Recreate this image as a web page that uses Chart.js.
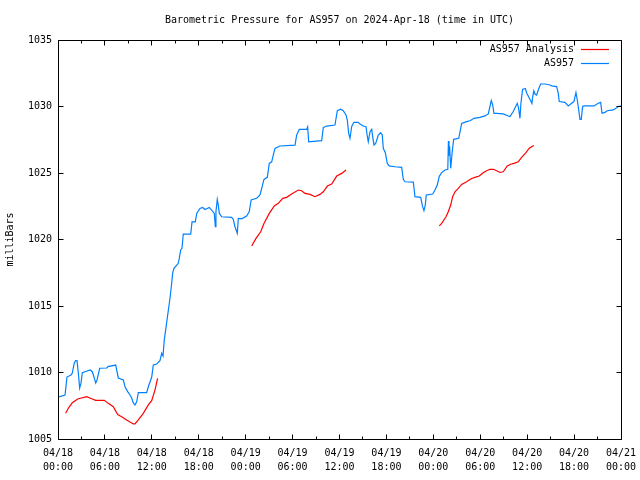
<!DOCTYPE html>
<html><head><meta charset="utf-8">
<script src="https://cdn.jsdelivr.net/npm/chart.js@4/dist/chart.umd.min.js"></script>
<style>html,body{margin:0;padding:0;background:#fff}canvas{display:block}</style>
</head><body>
<canvas id="c" width="640" height="480"></canvas>
<script>
const titleText = 'Barometric Pressure for AS957 on 2024-Apr-18 (time in UTC)';
const yAxisLabel = 'milliBars';
const seriesNames = ['AS957 Analysis', 'AS957'];
const seriesColors = ['#ff0000', '#0080ff'];
const dateLabels = ['04/18','04/18','04/18','04/18','04/19','04/19','04/19','04/19','04/20','04/20','04/20','04/20','04/21'];
const timeLabels = ['00:00','06:00','12:00','18:00','00:00','06:00','12:00','18:00','00:00','06:00','12:00','18:00','00:00'];
const yTickValues = [1005, 1010, 1015, 1020, 1025, 1030, 1035];

// hours since 2024-04-18 00:00 UTC
const stationHours = [0,0.9,1.15,1.66,1.83,2.08,2.26,2.43,2.6,2.77,2.94,3.11,3.45,4.13,4.39,4.64,4.82,4.99,5.33,6.23,6.39,7.38,7.71,8.35,8.57,8.91,9.21,9.42,9.63,9.85,10.06,10.27,11.34,11.55,11.98,12.19,12.62,13.04,13.26,13.43,13.59,
14.32,14.54,14.66,14.83,15.18,15.38,15.51,15.69,15.86,16.02,16.97,17.14,17.56,17.74,18.16,18.5,18.8,19.35,19.65,19.99,20.12,20.2,20.37,20.5,20.63,20.93,22.21,22.42,22.63,22.93,23.06,23.49,24.13,24.46,24.7,25.41,25.83,26.05,26.34,26.77,27.02,27.33,27.53,27.75,28.39,30.31,30.52,30.86,31.8,31.93,32.06,33.72,33.93,34.36,35.42,35.72,36.15,36.48,36.83,37.0,37.17,37.34,37.56,37.85,38.4,38.62,39.04,39.39,39.55,39.68,39.9,40.12,40.24,40.41,40.63,40.96,41.27,41.47,41.6,41.86,42.11,42.37,43.09,43.95,44.16,44.37,45.44,45.65,46.38,46.63,46.8,46.97,47.1,47.92,48.21,48.5,48.76,49.07,49.49,49.85,49.93,50.0,50.08,50.22,50.4,50.6,51.25,51.62,52.26,52.69,53.2,53.96,54.6,55.03,55.24,55.41,55.59,55.75,56.1,56.94,57.58,57.8,58.22,58.73,58.9,59.08,59.2,59.41,59.76,59.95,60.4,60.61,60.7,60.85,61.0,61.21,61.42,61.72,62.28,62.92,63.13,63.77,63.98,64.1,64.83,65.26,65.69,65.98,66.24,66.41,66.59,66.75,66.92,67.09,67.26,68.54,69.09,69.4,69.57,69.95,70.24,71.0,71.36,71.65,72.0];
const stationPressure = [1008.15,1008.3,1009.66,1009.81,1009.96,1010.71,1010.89,1010.89,1009.96,1008.83,1009.2,1009.98,1010.06,1010.19,1010.06,1009.59,1009.21,1009.44,1010.32,1010.34,1010.44,1010.56,1009.59,1009.44,1008.93,1008.56,1008.31,1008.08,1007.71,1007.56,1007.8,1008.48,1008.48,1008.93,1009.64,1010.56,1010.64,1010.89,1011.44,1011.24,1012.44,
1015.58,1016.71,1017.46,1017.83,1018.08,1018.21,1018.58,1019.21,1019.34,1020.41,1020.41,1021.33,1021.33,1021.96,1022.33,1022.41,1022.26,1022.41,1022.21,1021.96,1020.96,1022.11,1023.01,1022.59,1021.96,1021.71,1021.66,1021.51,1020.96,1020.47,1021.59,1021.55,1021.77,1022.1,1022.97,1023.1,1023.35,1023.85,1024.52,1024.67,1025.72,1025.84,1026.35,1026.85,1027.03,1027.1,1027.85,1028.28,1028.28,1028.47,1027.35,1027.43,1028.43,1028.53,1028.61,1029.68,1029.79,1029.68,1029.36,1028.98,1027.98,1027.61,1028.5,1028.81,1028.81,1028.68,1028.53,1028.48,1027.78,1027.35,1028.1,1028.28,1027.73,1027.11,1027.23,1027.86,1028.03,1027.86,1026.86,1026.53,1025.72,1025.53,1025.47,1025.42,1024.52,1024.34,1024.32,1023.22,1023.17,1022.47,1022.17,1022.59,1023.35,1023.42,1023.72,1024.1,1024.75,1025.03,1025.23,1025.28,1027.41,1026.3,1027.0,1025.35,1026.5,1027.53,1027.61,1028.73,1028.86,1028.93,1029.11,1029.18,1029.29,1029.44,1030.0,1030.45,1030.12,1029.49,1029.49,1029.44,1029.29,1029.24,1029.62,1030.24,1029.9,1029.11,1030.24,1031.29,1031.35,1031.0,1030.49,1030.24,1030.7,1031.18,1030.94,1030.86,1031.24,1031.69,1031.69,1031.62,1031.55,1031.5,1030.99,1030.37,1030.31,1030.04,1030.24,1030.37,1031.05,1030.49,1029.74,1029.03,1029.03,1030.0,1030.04,1030.04,1030.24,1030.31,1029.49,1029.56,1029.68,1029.74,1029.86,1030.0,1030.04];

// analysis: three segments separated by null gaps
const analysisHours = [0.98,1.32,1.83,2.52,3.67,4.31,4.82,5.92,6.43,7.07,7.63,8.14,8.78,9.63,9.85,10.27,10.91,11.55,11.98,12.4,12.74,
18,
24.77,25.32,25.92,26.34,27.02,27.66,28.18,28.73,29.24,29.88,30.73,31.16,31.59,32.23,32.86,33.5,33.93,34.45,35.0,35.64,36.28,36.83,
42,
48.76,49.07,49.62,49.91,50.22,50.47,50.77,51.19,51.62,52.26,52.9,53.32,53.87,54.38,54.81,55.24,55.67,56.1,56.52,56.94,57.45,57.89,58.31,58.86,59.29,59.85,60.27,60.85];
const analysisPressure = [1006.93,1007.31,1007.73,1008.01,1008.18,1008.03,1007.91,1007.91,1007.68,1007.43,1006.83,1006.68,1006.43,1006.13,1006.13,1006.43,1006.93,1007.56,1007.88,1008.68,1009.56,
null,
1019.51,1020.08,1020.58,1021.21,1021.96,1022.52,1022.72,1023.09,1023.17,1023.42,1023.72,1023.67,1023.47,1023.39,1023.22,1023.39,1023.59,1024.02,1024.17,1024.77,1024.97,1025.23,
null,
1021.02,1021.21,1021.71,1022.09,1022.59,1023.22,1023.59,1023.84,1024.14,1024.34,1024.59,1024.67,1024.77,1025.02,1025.17,1025.28,1025.28,1025.17,1025.04,1025.09,1025.53,1025.66,1025.72,1025.84,1026.17,1026.53,1026.86,1027.07];

const FONT = '"DejaVu Sans Mono", "Liberation Mono", monospace';
Chart.defaults.font.family = FONT;
Chart.defaults.font.size = 10;
Chart.defaults.color = '#000';

const toPoints = (hs, ps) => hs.map((h, i) => ({x: h, y: ps[i]}));

const gnuplotFrame = {
  id: 'gnuplotFrame',
  beforeDraw(chart) {
    const ctx = chart.ctx;
    ctx.save();
    ctx.fillStyle = '#fff';
    ctx.fillRect(0, 0, chart.width, chart.height);
    ctx.restore();
  },
  afterDraw(chart) {
    const {ctx, chartArea: a, scales: {x, y}} = chart;
    const L = Math.floor(a.left) + 0.5, R = Math.floor(a.right) + 0.5;
    const T = Math.floor(a.top) + 0.5, B = Math.floor(a.bottom) + 0.5;
    ctx.save();
    ctx.strokeStyle = '#000';
    ctx.lineWidth = 1;
    ctx.beginPath();
    ctx.rect(L, T, R - L, B - T);
    x.ticks.forEach(t => {
      const px = Math.floor(x.getPixelForValue(t.value)) + 0.5;
      const len = (t.value % 6 === 0) ? 5 : 3;
      ctx.moveTo(px, B); ctx.lineTo(px, B - len);
      ctx.moveTo(px, T); ctx.lineTo(px, T + len);
    });
    y.ticks.forEach(t => {
      const py = Math.floor(y.getPixelForValue(t.value)) + 0.5;
      ctx.moveTo(L, py); ctx.lineTo(L + 5, py);
      ctx.moveTo(R, py); ctx.lineTo(R - 5, py);
    });
    ctx.stroke();
    // legend (gnuplot style: text right-aligned, sample line to the right)
    ctx.font = '10px ' + FONT;
    ctx.textAlign = 'right';
    ctx.textBaseline = 'middle';
    seriesNames.forEach((name, i) => {
      const yy = Math.floor(a.top + 9 + i * 14) + 0.5;
      ctx.fillStyle = '#000';
      ctx.fillText(name, a.right - 47, yy);
      ctx.strokeStyle = seriesColors[i];
      ctx.lineWidth = 1.2;
      ctx.beginPath();
      ctx.moveTo(a.right - 40, yy);
      ctx.lineTo(a.right - 12, yy);
      ctx.stroke();
    });
    ctx.restore();
  }
};

new Chart(document.getElementById('c'), {
  type: 'line',
  data: {
    datasets: [
      {label: seriesNames[0], data: toPoints(analysisHours, analysisPressure), borderColor: seriesColors[0], backgroundColor: seriesColors[0], borderWidth: 1.2, pointRadius: 0, tension: 0, spanGaps: false, fill: false},
      {label: seriesNames[1], data: toPoints(stationHours, stationPressure), borderColor: seriesColors[1], backgroundColor: seriesColors[1], borderWidth: 1.2, pointRadius: 0, tension: 0, spanGaps: false, fill: false}
    ]
  },
  options: {
    responsive: false,
    animation: false,
    devicePixelRatio: 1,
    layout: {padding: {left: 0, right: 19, top: 0, bottom: 0}},
    plugins: {
      legend: {display: false},
      tooltip: {enabled: false},
      title: {display: true, fullSize: false, text: titleText, color: '#000', font: {family: FONT, size: 10, weight: 'normal', lineHeight: 1.2}, padding: {top: 14, bottom: 14}}
    },
    scales: {
      x: {
        type: 'linear', min: 0, max: 72,
        grid: {display: false, drawTicks: false}, border: {display: false},
        afterBuildTicks: s => { s.ticks = []; for (let v = 0; v <= 72; v += 3) s.ticks.push({value: v}); },
        ticks: {
          autoSkip: false, maxRotation: 0, minRotation: 0, padding: 7,
          font: {family: FONT, size: 10, lineHeight: 1.4}, color: '#000',
          callback: v => (v % 6 === 0) ? [dateLabels[v / 6], timeLabels[v / 6]] : ''
        },
        afterFit: s => { s.height = 41; s.paddingLeft = 0; s.paddingRight = 0; }
      },
      y: {
        type: 'linear', min: 1005, max: 1035,
        grid: {display: false, drawTicks: false}, border: {display: false},
        afterBuildTicks: s => { s.ticks = yTickValues.map(v => ({value: v})); },
        ticks: {padding: 6, color: '#000', font: {family: FONT, size: 10}, callback: v => String(v)},
        title: {display: true, text: yAxisLabel, color: '#000', font: {family: FONT, size: 10}, padding: {top: 4, bottom: 0}},
        afterFit: s => { s.width = 58; s.paddingTop = 0; s.paddingBottom = 0; }
      }
    }
  },
  plugins: [gnuplotFrame]
});
</script>
</body></html>
